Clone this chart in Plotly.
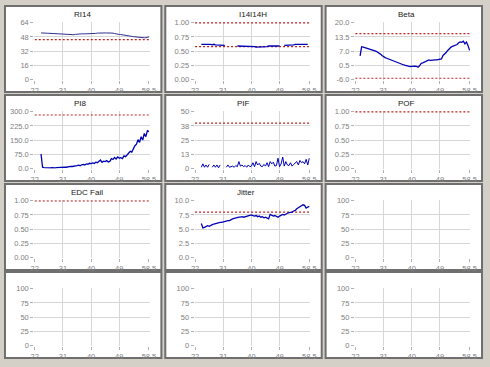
import plotly.graph_objects as go

W, H = 490, 367

# ---------------- data ----------------
X = [23.5, 24, 24.5, 25, 25.5, 26, 26.5, 27, 27.5, 28, 28.5, 29, 29.5, 30, 30.5,
     31, 31.5, 32, 32.5, 33, 33.5, 34, 34.5, 35, 35.5, 36, 36.5, 37, 37.5, 38,
     38.5, 39, 39.5, 40, 40.5, 41, 41.5, 42, 42.5, 43, 43.5, 44, 44.5, 45, 45.5,
     46, 46.5, 47, 47.5, 48, 48.5, 49, 49.5, 50, 50.5, 51, 51.5, 52, 52.5, 53,
     53.5, 54, 54.5, 55, 55.5, 56, 56.5, 57, 57.5, 58, 58.5]

X_TICKS = [22, 31, 40, 49, 58.5]
X_TICK_TEXT = ["22", "31", "40", "49", "58.5"]

RI14 = [None, 52.5, 52.6, 52.4, 52.3, 52.2, 52.1, 52.0, 51.9, 51.8, 51.7, 51.6, 51.5,
        51.4, 51.3, 51.2, 51.0, 50.8, 50.5, 50.3, 50.2, 50.2, 50.5, 50.9, 51.2, 51.4,
        51.5, 51.5, 51.4, 51.4, 51.4, 51.5, 51.5, 51.5, 51.6, 51.8, 52.0, 52.3, 52.5,
        52.6, 52.6, 52.5, 52.5, 52.5, 52.6, 52.6, 52.5, 52.3, 51.8, 51.3, 51.0, 50.8,
        50.7, 50.5, 50.3, 50.0, 49.7, 49.4, 49.0, 48.6, 48.3, 48.0, 47.7, 47.5, 47.3,
        47.1, 47.0, 47.0, 47.2, 47.6, 48.0]

I14I14H = [None, 0.62, 0.62, 0.63, 0.62, 0.62, 0.62, 0.62, 0.61, 0.62, 0.61, 0.61, 0.61,
           0.61, 0.60, 0.60, 0.60, None, None, None, None, None, None, None, 0.59, 0.59,
           0.59, 0.59, 0.59, 0.59, 0.59, 0.58, 0.58, 0.58, 0.58, 0.58, 0.57, 0.57, 0.58,
           0.58, 0.58, 0.58, 0.58, 0.58, 0.59, 0.59, 0.59, 0.59, 0.59, 0.59, 0.59, 0.59,
           None, None, 0.60, 0.60, 0.60, 0.61, 0.61, 0.61, 0.61, 0.62, 0.62, 0.62, 0.62,
           0.62, 0.62, 0.63, 0.62, 0.62, None]

BETA = [4.8, 9.0, 8.8, 8.6, 8.3, 8.0, 7.9, 7.7, 7.4, 7.5, 7.0, 6.6, 6.2, 5.6, 5.0, 4.4,
        4.0, 3.7, 3.4, 3.0, 2.7, 2.4, 2.1, 1.9, 1.7, 1.3, 1.1, 0.9, 0.6, 0.4, 0.2, -0.2,
        -0.1, 0.0, 0.2, 0.1, 0.0, -0.4, 0.2, 1.3, 1.6, 1.9, 2.2, 2.5, 2.9, 2.7, 2.9, 2.8,
        3.0, 3.0, 3.2, 3.1, 3.4, 5.0, 5.6, 6.3, 7.3, 8.2, 8.7, 9.2, 9.4, 9.8, 10.0, 10.8,
        11.2, 11.0, 11.5, 10.3, 11.2, 9.5, 7.3]

PI8 = [None, 76, 6, 4, 3, 4, 2, 3, 4, 2, 3, 4, 5, 3, 6, 5, 7, 6, 9, 8, 11, 10, 13, 12,
       15, 17, 14, 19, 21, 18, 24, 22, 27, 25, 29, 26, 33, 30, 36, 44, 32, 38, 36, 41,
       34, 37, 52, 47, 58, 50, 61, 54, 57, 52, 66, 62, 71, 78, 90, 86, 104, 120, 128,
       152, 138, 168, 150, 185, 168, 200, 195]

PIF = [None, 1, 4, 1, 3, 1, 3.5, None, 1, 3, 1, 3, 0.5, 3, None, None, None, 1, 3, 1,
       1.5, 2, 1, 2.5, 1.5, 6, 2, 3, 1.5, 2.5, 1, 3, 1.5, 2, 5, 1.5, 6, 3, 4.5, 2, 1.5,
       3.5, 2, 5, 1.5, 6, 4, 5.5, 2, 2.5, 9, 1.5, 4, 10, 2, 6, 3, 2.5, 5, 2, 3.5, 5, 6,
       3, 7, 5, 6, 4, 8, 3, 9]

JITTER = [None, 6.0, 5.2, 5.3, 5.4, 5.6, 5.5, 5.7, 5.8, 5.9, 6.0, 6.0, 6.1, 6.2, 6.2,
          6.3, 6.3, 6.4, 6.5, 6.5, 6.7, 6.8, 6.9, 7.0, 7.0, 7.1, 7.1, 7.2, 7.1, 7.2, 7.3,
          7.3, 7.4, 7.5, 7.4, 7.3, 7.4, 7.2, 7.3, 7.1, 7.2, 7.0, 7.1, 6.9, 6.8, 7.6, 7.5,
          7.3, 7.4, 7.2, 7.1, 7.3, 7.5, 7.6, 7.5, 7.7, 7.8, 7.9, 7.9, 8.0, 8.2, 8.3, 8.6,
          8.8, 9.0, 9.1, 9.3, 9.2, 8.7, 8.9, 9.0]

TITLES = ["RI14", "I14I14H", "Beta", "PI8", "PIF", "POF", "EDC Fail", "Jitter",
          "", "", "", ""]
SERIES = [RI14, I14I14H, BETA, PI8, PIF, None, None, JITTER, None, None, None, None]
THRESHOLDS = [[45], [1.0, 0.58], [15, -5.5], [283], [40], [1.0], [1.0], [8],
              [], [], [], []]
Y_TICKS = [
    [0, 16, 32, 48, 64],
    [0, 0.25, 0.5, 0.75, 1.0],
    [-6, 0.5, 7, 13.5, 20],
    [0, 75, 150, 225, 300],
    [0, 12.5, 25, 37.5, 50],
    [0, 0.25, 0.5, 0.75, 1.0],
    [0, 0.25, 0.5, 0.75, 1.0],
    [0, 2.5, 5, 7.5, 10],
    [0, 25, 50, 75, 100],
    [0, 25, 50, 75, 100],
    [0, 25, 50, 75, 100],
    [0, 25, 50, 75, 100],
]
Y_TICK_TEXT = [
    ["0", "16", "32", "48", "64"],
    ["0.00", "0.25", "0.50", "0.75", "1.00"],
    ["-6.0", "0.5", "7.0", "13.5", "20.0"],
    ["0.0", "75.0", "150.0", "225.0", "300.0"],
    ["0", "13", "25", "38", "50"],
    ["0.00", "0.25", "0.50", "0.75", "1.00"],
    ["0.00", "0.25", "0.50", "0.75", "1.00"],
    ["0.0", "2.5", "5.0", "7.5", "10.0"],
    ["0", "25", "50", "75", "100"],
    ["0", "25", "50", "75", "100"],
    ["0", "25", "50", "75", "100"],
    ["0", "25", "50", "75", "100"],
]
TITLE_OFFSETS = [79, 90, 83, 77, 80, 83, 84, 83, 80, 80, 80, 80]

# ---------------- layout ----------------
COL_L = [1, 165, 329]
ROW_T = [2, 93, 184, 274]
PANEL_W, PANEL_H = 160, 88
FONT = "Liberation Sans, Arial, sans-serif"
BLUE = "#0000b4"
RED = "#c02020"

fig = go.Figure()
shapes = []
annotations = []
layout = dict(
    width=W, height=H, margin=dict(l=0, r=0, t=0, b=0),
    paper_bgcolor="#d4d0c8", plot_bgcolor="white", showlegend=False,
    font=dict(family=FONT, size=7, color="#808080"),
)

xr = [22, 58.5]
for i in range(12):
    r, c = divmod(i, 3)
    L, T = COL_L[c], ROW_T[r]
    sfx = "" if i == 0 else str(i + 1)
    shapes.append(dict(type="rect", xref="paper", yref="paper", layer="below",
                       x0=L / W, x1=(L + PANEL_W) / W,
                       y0=1 - (T + PANEL_H) / H, y1=1 - T / H,
                       fillcolor="white", line=dict(color="#6f6f6f", width=2)))
    if TITLES[i]:
        annotations.append(dict(xref="paper", yref="paper", x=(L + TITLE_OFFSETS[i]) / W,
                                y=1 - (T + 9) / H, text=TITLES[i], showarrow=False,
                                xanchor="center", yanchor="middle",
                                font=dict(family=FONT, size=8, color="#202020")))
    yt = Y_TICKS[i]
    span = yt[-1] - yt[0]
    xspan = xr[1] - xr[0]
    layout["xaxis" + sfx] = dict(
        domain=[(L + 30) / W, (L + 148) / W], anchor="y" + sfx,
        range=[xr[0] - 0.004 * xspan, xr[1] + 0.006 * xspan],
        tickvals=X_TICKS, ticktext=X_TICK_TEXT, showgrid=True, gridcolor="#d6d6d6",
        gridwidth=1, zeroline=False, showline=False, ticks="outside", ticklen=3,
        tickcolor="#b0b0b0", tickfont=dict(size=7.5, color="#808080", family=FONT),
        fixedrange=True)
    layout["yaxis" + sfx] = dict(
        domain=[1 - (T + 75.5) / H, 1 - (T + 16.5) / H], anchor="x" + sfx,
        range=[yt[0] - 0.008 * span, yt[-1] + 0.012 * span],
        tickvals=yt, ticktext=Y_TICK_TEXT[i], showgrid=True, gridcolor="#d6d6d6",
        gridwidth=1, zeroline=False, showline=False, ticks="outside", ticklen=3,
        tickcolor="#b0b0b0", tickfont=dict(size=7.5, color="#808080", family=FONT),
        fixedrange=True)
    fig.add_trace(go.Scatter(x=[None], y=[None], mode="lines",
                             xaxis="x" + sfx, yaxis="y" + sfx, hoverinfo="skip"))
    for thr in THRESHOLDS[i]:
        fig.add_trace(go.Scatter(x=xr, y=[thr, thr], mode="lines",
                                 line=dict(color=RED, width=1.2, dash="2px,2px"),
                                 xaxis="x" + sfx, yaxis="y" + sfx, hoverinfo="skip"))
    if SERIES[i] is not None:
        fig.add_trace(go.Scatter(x=X, y=SERIES[i], mode="lines",
                                 line=dict(color=BLUE if i != 0 else "#303090",
                                           width=1 if i in (0, 4) else 1.3),
                                 connectgaps=False,
                                 xaxis="x" + sfx, yaxis="y" + sfx))

layout["shapes"] = shapes
layout["annotations"] = annotations
fig.update_layout(**layout)
fig.write_html("out.html", config={"displayModeBar": False},
               post_script="document.body.style.margin='0';document.body.style.overflow='hidden';")
